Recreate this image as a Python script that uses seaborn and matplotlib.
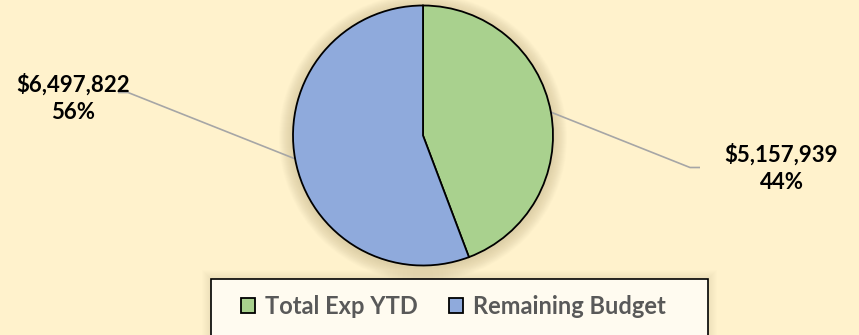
import matplotlib
matplotlib.use("Agg")
import matplotlib.pyplot as plt
import seaborn as sns
import numpy as np

categories = ["Total Exp YTD", "Remaining Budget"]
values = [5157939, 6497822]
colors = ["#A9D18E", "#8FAADC"]

sns.set_theme(style="white")
plt.rcParams['font.family'] = ['Lato', 'DejaVu Sans']

W, H = 859, 335
BG = "#FFF2CC"
fig = plt.figure(figsize=(W / 100, H / 100), dpi=100, facecolor=BG)
ax = fig.add_axes([0, 0, 1, 1])
ax.set_facecolor(BG)


def Y(y):  # pixel-from-top to data y
    return H - y


cx, cy, R = 423, Y(135.5), 130

# soft shadow around the pie
for i in range(14):
    ax.add_patch(plt.Circle((cx, cy - 2), R + 14 - i, color="#8a7a50", alpha=0.018, lw=0, zorder=1))

# legend box with soft shadow
LX0, LX1, LTOP = 211, 708, 279
for i in range(10):
    ax.add_patch(plt.Rectangle((LX0 - i, -10), LX1 - LX0 + 2 * i, Y(LTOP) + 10 + i, color="#8a7a50",
                               alpha=0.012, lw=0, zorder=1))
ax.add_patch(plt.Rectangle((LX0, -10), LX1 - LX0, Y(LTOP) + 10, facecolor="#FFFBF0",
                           edgecolor="black", lw=1.2, zorder=2))

wedges, _ = ax.pie(values, colors=colors, startangle=90, counterclock=False,
                   center=(cx, cy), radius=R,
                   wedgeprops=dict(edgecolor="black", linewidth=1.3), frame=True)
for w in wedges:
    w.set_zorder(3)
ax.set_xlim(0, W)
ax.set_ylim(0, H)
ax.set_aspect("equal")
ax.axis("off")

total = sum(values)
label_pos = [(781.5, Y(168)), (73.5, Y(98))]
elbow = [(690, 700, Y(167.5)), (128, 118, Y(92.5))]
cum = 0
for i, v in enumerate(values):
    frac = v / total
    mid = cum + frac / 2
    cum += frac
    ang = np.deg2rad(90 - mid * 360)
    px, py = cx + R * np.cos(ang), cy + R * np.sin(ang)
    lx, ly = label_pos[i]
    ex0, ex1, ey = elbow[i]
    ax.plot([px, ex0, ex1], [py, ey, ey], color="#A6A6A6", lw=1.2, zorder=2,
            solid_capstyle="butt")
    ax.text(lx, ly, f"${v:,.0f}\n{frac:.0%}", ha="center", va="center",
            fontsize=16, fontweight="bold", color="black", linespacing=1.38, zorder=4)

handles = [plt.Rectangle((0, 0), 1, 1, facecolor=c, edgecolor="black", lw=1.3) for c in colors]
leg = fig.legend(handles, categories, loc="center left",
                 bbox_to_anchor=(241 / W, 1 - 306 / H),
                 ncol=2, frameon=False, handlelength=0.6, handleheight=0.6,
                 handletextpad=0.42, columnspacing=1.3, borderpad=0, borderaxespad=0,
                 prop=dict(family="Lato", weight="bold", size=17))
leg.set_zorder(5)
for t in leg.get_texts():
    t.set_color("#595959")

fig.savefig("out.png", dpi=100, facecolor=BG)
